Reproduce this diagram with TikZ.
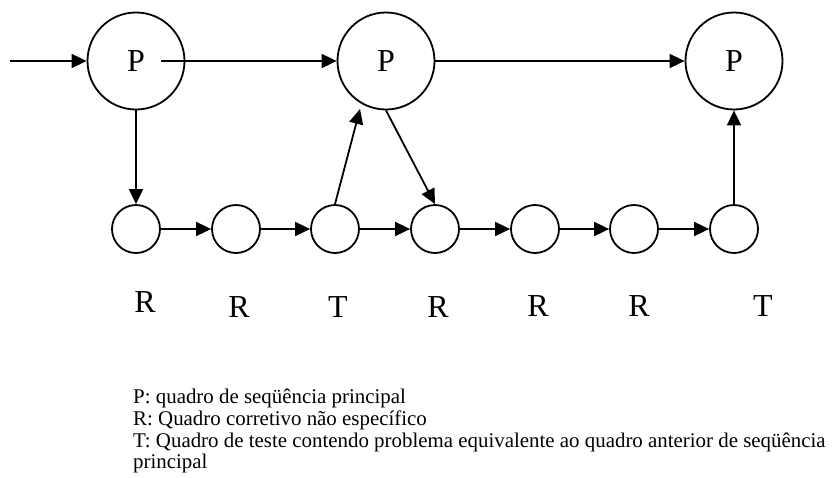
\documentclass[tikz,border=0pt]{standalone}
\usepackage{fontspec}
\setmainfont{Liberation Serif}
\usetikzlibrary{arrows.meta, positioning}

\begin{document}
\begin{tikzpicture}[x=1pt, y=-1pt,
		bigframe/.style={draw, circle, line width=1.8pt, minimum size=97pt, inner sep=0pt, font=\fontsize{32}{32}\selectfont},
		smallframe/.style={draw, circle, line width=1.8pt, minimum size=48pt, inner sep=0pt},
		kind/.style={inner sep=0pt, font=\fontsize{32}{32}\selectfont},
		legend/.style={anchor=base west, inner sep=0pt, font=\fontsize{20.9}{20.9}\selectfont},
		flow/.style={line width=1.8pt, -{Triangle[length=15pt, width=14pt]}}]
		\useasboundingbox (0,0) rectangle (840,477);
		
		\node [bigframe] (p1) at (136,61) {P};
		\node [bigframe] (p2) at (386,61) {P};
		\node [bigframe] (p3) at (734,61) {P};
		
		\node [smallframe] (r1) at (136,229) {};
		\node [smallframe] (r2) at (236,229) {};
		\node [smallframe] (t1) at (335,229) {};
		\node [smallframe] (r3) at (435,229) {};
		\node [smallframe] (r4) at (535,229) {};
		\node [smallframe] (r5) at (634,229) {};
		\node [smallframe] (t2) at (734,229) {};
		
		\coordinate (start) at (10,61);
		\coordinate (p1out) at (161,61);
		\coordinate (p2in) at (360,109);
		
		\draw [flow] (start)--(p1.west);
		\draw [flow] (p1out)--(p2.west);
		\draw [flow] (p2.east)--(p3.west);
		\draw [flow] (p1.south)--(r1.north);
		\draw [flow] (r1.east)--(r2.west);
		\draw [flow] (r2.east)--(t1.west);
		\draw [flow] (t1.east)--(r3.west);
		\draw [flow] (r3.east)--(r4.west);
		\draw [flow] (r4.east)--(r5.west);
		\draw [flow] (r5.east)--(t2.west);
		\draw [flow] (t1.north)--(p2in);
		\draw [flow] (p2.south)--(r3.north);
		\draw [flow] (t2.north)--(p3.south);
		
		\node [kind] (k1) at (145,302) {R};
		\node [kind] (k2) at (239,307) {R};
		\node [kind] (k3) at (338,307) {T};
		\node [kind] (k4) at (438,307) {R};
		\node [kind] (k5) at (538,306) {R};
		\node [kind] (k6) at (639,306) {R};
		\node [kind] (k7) at (763,306) {T};
		
		\node [legend] (l1) at (133,403) {P: quadro de seqüência principal};
		\node [legend] (l2) at (133,425) {R: Quadro corretivo não específico};
		\node [legend] (l3) at (133,447) {T: Quadro de teste contendo problema equivalente ao quadro anterior de seqüência};
		\node [legend] (l4) at (133,468) {principal};
\end{tikzpicture}
\end{document}
